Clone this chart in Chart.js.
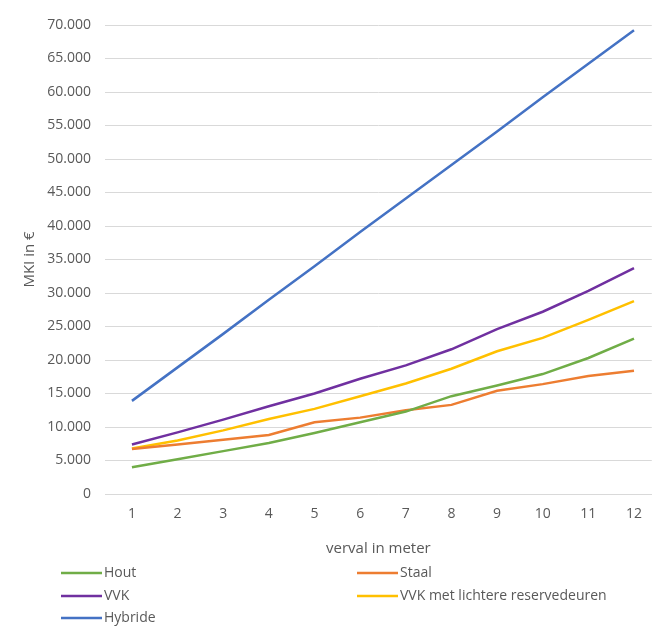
<!DOCTYPE html>
<html>
<head>
<meta charset="utf-8">
<script src="https://cdn.jsdelivr.net/npm/chart.js@4/dist/chart.umd.min.js"></script>
<style>
  html, body { margin: 0; padding: 0; background: #ffffff; }
  #wrap { width: 654px; height: 626px; position: relative; }
</style>
</head>
<body>
<div id="wrap"><canvas id="c" width="654" height="626"></canvas></div>
<script>
// Verval (m) op de x-as
const categories = [1, 2, 3, 4, 5, 6, 7, 8, 9, 10, 11, 12];

// MKI in euro per variant
const hout = [4000, 5200, 6400, 7600, 9100, 10700, 12300, 14600, 16200, 17900, 20300, 23200];
const staal = [6700, 7400, 8100, 8800, 10700, 11400, 12500, 13300, 15400, 16400, 17600, 18400];
const vvk = [7400, 9200, 11100, 13100, 15000, 17200, 19200, 21600, 24600, 27200, 30300, 33700];
const vvkLichter = [6800, 8000, 9500, 11200, 12700, 14600, 16500, 18700, 21300, 23300, 26000, 28800];
const hybride = [13900, 18900, 23900, 29000, 34000, 39100, 44100, 49100, 54100, 59200, 64200, 69200];

const seriesNames = ['Hout', 'Staal', 'VVK', 'VVK met lichtere reservedeuren', 'Hybride'];
const yTicks = [0, 5000, 10000, 15000, 20000, 25000, 30000, 35000, 40000, 45000, 50000, 55000, 60000, 65000, 70000];

const colors = ['#70AD47', '#ED7D31', '#7030A0', '#FFC000', '#4472C4'];
const FONT = "'Open Sans', 'Noto Sans', sans-serif";
const TEXT = '#595959';

function fmt(v) {
  return String(Math.round(v)).replace(/\B(?=(\d{3})+(?!\d))/g, '.');
}

const seriesData = [hout, staal, vvk, vvkLichter, hybride];
const datasets = seriesData.map((d, i) => ({
  label: seriesNames[i],
  data: d.map((v, k) => ({ x: categories[k], y: v })),
  borderColor: colors[i],
  backgroundColor: colors[i],
  borderWidth: 2.5,
  pointRadius: 0,
  tension: 0,
  fill: false
}));

// Two-column legend under the axis
const bottomLegend = {
  id: 'bottomLegend',
  afterDraw(chart) {
    const ctx = chart.ctx;
    const cols = [61, 357];
    const rows = [573, 596, 618];
    ctx.save();
    ctx.font = '14px ' + FONT;
    ctx.textBaseline = 'middle';
    ctx.textAlign = 'left';
    chart.data.datasets.forEach((ds, i) => {
      const x = cols[i % 2];
      const y = rows[Math.floor(i / 2)];
      ctx.strokeStyle = ds.borderColor;
      ctx.lineWidth = 2.5;
      ctx.beginPath();
      ctx.moveTo(x, y);
      ctx.lineTo(x + 41, y);
      ctx.stroke();
      ctx.fillStyle = TEXT;
      ctx.fillText(ds.label, x + 43, y);
    });
    ctx.restore();
  }
};

new Chart(document.getElementById('c'), {
  type: 'line',
  data: { datasets: datasets },
  plugins: [bottomLegend],
  options: {
    responsive: false,
    animation: false,
    devicePixelRatio: 1,
    layout: { padding: { left: 0, right: 0, top: 25, bottom: 62 } },
    plugins: {
      legend: { display: false },
      tooltip: { enabled: false }
    },
    scales: {
      x: {
        type: 'linear',
        min: 0.41,
        max: 12.39,
        afterFit(s) { s.height = 70; },
        afterBuildTicks(s) { s.ticks = categories.map(v => ({ value: v })); },
        grid: { display: false, drawTicks: false },
        border: { display: true, color: '#d9d9d9', width: 1 },
        ticks: { color: TEXT, font: { family: FONT, size: 14 }, padding: 12, maxRotation: 0, callback: v => String(v) },
        title: {
          display: true,
          text: 'verval in meter',
          color: TEXT,
          font: { family: FONT, size: 15 },
          padding: { top: 0, bottom: 6 }
        }
      },
      y: {
        min: 0,
        max: 70000,
        afterFit(s) { s.width = 105; },
        afterBuildTicks(s) { s.ticks = yTicks.map(v => ({ value: v })); },
        grid: { color: '#d9d9d9', lineWidth: 1, drawTicks: false },
        border: { display: false },
        ticks: {
          color: TEXT,
          font: { family: FONT, size: 14 },
          padding: 14,
          callback: v => fmt(v)
        },
        title: {
          display: true,
          text: 'MKI in €',
          color: TEXT,
          font: { family: FONT, size: 15 },
          padding: { top: 21, bottom: 0 }
        }
      }
    }
  }
});
</script>
</body>
</html>
